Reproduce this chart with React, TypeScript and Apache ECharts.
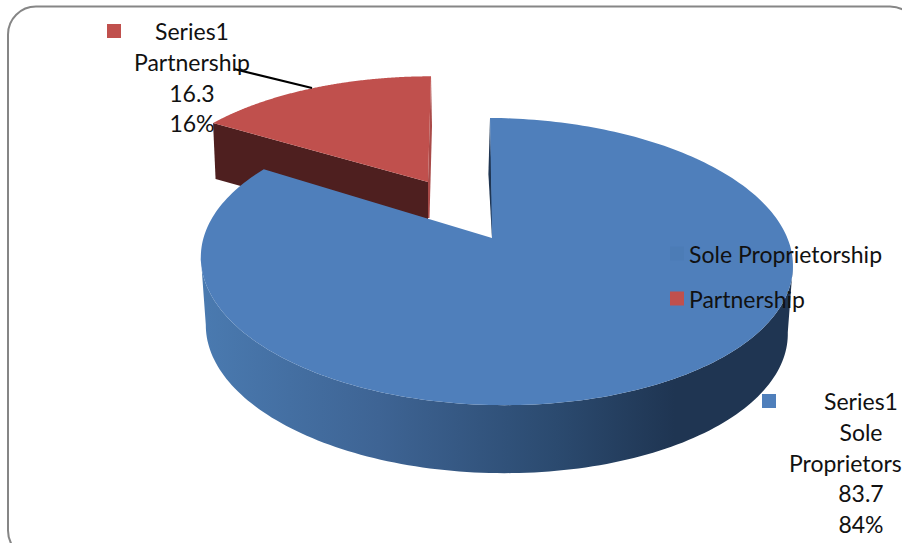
import React, { useEffect, useRef } from "react";
import * as echarts from "echarts";

const categories = ["Sole Proprietorship", "Partnership"];
const values = [83.7, 16.3];
const seriesLabel = "Series1";
const colors = ["#4f7fbb", "#c0504d"];
const total = values[0] + values[1];
const FONT = "Lato, sans-serif";
const FONT_SIZE = 23;

type Pt = [number, number];

// Perspective projection of a unit disc lying on the pie's plane.
function project(
  deg: number,
  r: number,
  o: { ax: number; ay: number; g: number; f: number; k: number; m: number; skew: number; tilt: number }
): Pt {
  const a = (deg * Math.PI) / 180;
  const X = r * Math.sin(a);
  const Y = r * Math.cos(a);
  const w = 1 + o.k * Y + o.m * X;
  return [o.ax + (o.g * X) / w + o.skew * Y, o.ay - (o.f * Y) / w + o.tilt * X];
}

const blueTop = { ax: 492, ay: 238, g: 292, f: 139.7, k: 0.1638, m: -0.0152, skew: -2, tilt: 3 };
const blueBottom = { ...blueTop, ay: 306, g: 287, tilt: 3 };
const redTop = { ax: 428, ay: 182, g: 275, f: 123, k: 0.1638, m: 0, skew: 3, tilt: 0 };
const RED_DEPTH = 56;

function arc(from: number, to: number, o: typeof blueTop): Pt[] {
  const pts: Pt[] = [];
  const steps = 240;
  for (let i = 0; i <= steps; i++) pts.push(project(from + ((to - from) * i) / steps, 1, o));
  return pts;
}

function labelBlock(lines: string[], x: number, y: number) {
  return lines.map((text, i) => ({
    type: "text",
    style: {
      text,
      x,
      y: y + i * 30.8,
      align: "center",
      verticalAlign: "middle",
      fill: "#111111",
      font: `${FONT_SIZE}px ${FONT}`,
    },
  }));
}

function pct(v: number) {
  return `${Math.round((v / total) * 100)}%`;
}

function renderSole(_: any, api: any) {
  const sweep = (api.value(0) / total) * 360;
  const top = arc(0, sweep, blueTop);
  const bottom = arc(0, sweep, blueBottom);
  let iR = 0;
  let iL = 0;
  top.forEach((p, i) => {
    if (p[0] > top[iR][0]) iR = i;
    if (p[0] < top[iL][0]) iL = i;
  });
  const rim = top.slice(iR, iL + 1);
  const floor = bottom.slice(iR, iL + 1).reverse();
  const apex: Pt = [blueTop.ax, blueTop.ay];
  // Wall shading: light on the left, falling to navy towards the right.
  const shade = new echarts.graphic.LinearGradient(0, 0, 1, 0, [
    { offset: 0, color: "#4a7ab0" },
    { offset: 0.3, color: "#3e6494" },
    { offset: 0.6, color: "#2b4a6f" },
    { offset: 0.8, color: "#1f3552" },
    { offset: 1, color: "#1f3552" },
  ]);
  const s0 = top[0];
  return {
    type: "group",
    children: [
      { type: "polygon", shape: { points: [...rim, ...floor] }, style: { fill: shade } },
      {
        type: "polygon",
        shape: { points: [s0, [s0[0] - 1.6, s0[1] + 56], [apex[0], apex[1]], [apex[0] + 1, apex[1]]] },
        style: { fill: "#1f3552" },
      },
      { type: "polygon", shape: { points: [apex, ...top] }, style: { fill: colors[0] } },
      { type: "rect", shape: { x: 762, y: 394, width: 14, height: 14 }, style: { fill: colors[0] } },
      ...labelBlock([seriesLabel, "Sole", "Proprietorship", String(api.value(0)), pct(api.value(0))], 861, 401),
    ],
  };
}

function renderPartner(_: any, api: any) {
  const sweep = (api.value(0) / total) * 360;
  const top = arc(-sweep, 0, redTop);
  const apex: Pt = [redTop.ax, redTop.ay];
  const tip = top[0];
  const end = top[top.length - 1];
  return {
    type: "group",
    children: [
      {
        type: "polygon",
        shape: {
          points: [apex, tip, [tip[0] + 2.5, tip[1] + RED_DEPTH], [apex[0], apex[1] + RED_DEPTH]],
        },
        style: { fill: "#4e1f1f" },
      },
      {
        type: "polygon",
        shape: {
          points: [end, [end[0] + 1, end[1] + 50], [apex[0] + 1.5, apex[1] + 36], [apex[0], apex[1] + 36], apex],
        },
        style: { fill: "#a94a48" },
      },
      { type: "polygon", shape: { points: [apex, ...top] }, style: { fill: colors[1] } },
      { type: "line", shape: { x1: 234, y1: 69, x2: 312, y2: 88 }, style: { stroke: "#000000", lineWidth: 2 } },
      { type: "rect", shape: { x: 107, y: 24, width: 14, height: 14 }, style: { fill: colors[1] } },
      ...labelBlock([seriesLabel, "Partnership", String(api.value(0)), pct(api.value(0))], 192, 31),
    ],
  };
}

export default function App() {
  const ref = useRef<HTMLDivElement>(null);
  useEffect(() => {
    document.body.style.margin = "0";
    const chart = echarts.init(ref.current!, null, { renderer: "svg" });
    chart.setOption({
      animation: false,
      backgroundColor: "#ffffff",
      graphic: [
        {
          type: "rect",
          z: 0,
          shape: { x: 8, y: 6.5, width: 910, height: 552, r: 28 },
          style: { fill: "#ffffff", stroke: "#868686", lineWidth: 2 },
        },
      ],
      legend: {
        orient: "vertical",
        left: 670,
        top: 242,
        padding: 0,
        itemWidth: 14,
        itemHeight: 14,
        itemGap: 22,
        icon: "rect",
        selectedMode: false,
        z: 10,
        data: categories,
        textStyle: { fontFamily: FONT, fontSize: FONT_SIZE, color: "#111111" },
      },
      series: [
        {
          type: "custom",
          name: categories[1],
          coordinateSystem: "none",
          z: 2,
          itemStyle: { color: colors[1] },
          data: [[values[1]]],
          renderItem: renderPartner,
        },
        {
          type: "custom",
          name: categories[0],
          coordinateSystem: "none",
          z: 3,
          itemStyle: { color: "#4c7cb6" },
          data: [[values[0]]],
          renderItem: renderSole,
        },
      ],
    });
    return () => chart.dispose();
  }, []);
  return <div ref={ref} style={{ position: "absolute", left: 0, top: 0, width: 902, height: 543 }} />;
}
